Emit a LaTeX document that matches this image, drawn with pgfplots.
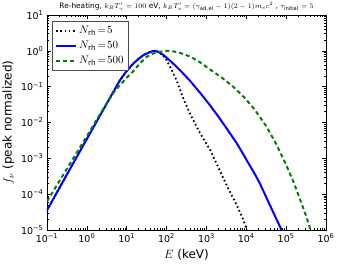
\documentclass[border=0pt]{standalone}
\usepackage{fontspec}
\setmainfont{DejaVu Sans}
\usepackage{pgfplots}
\pgfplotsset{compat=1.18}
\definecolor{mplgreen}{RGB}{0,128,0}
\begin{document}
\begin{tikzpicture}
\useasboundingbox (-47pt,-37pt) rectangle (293pt,230pt);
\begin{axis}[
  scale only axis, width=279pt, height=215pt,
  xmode=log, ymode=log,
  xmin=1e-1, xmax=1e6, ymin=1e-5, ymax=10,
  xtick={1e-1,1,1e1,1e2,1e3,1e4,1e5,1e6},
  xticklabels={10\textsuperscript{−1},10\textsuperscript{0},10\textsuperscript{1},10\textsuperscript{2},10\textsuperscript{3},10\textsuperscript{4},10\textsuperscript{5},10\textsuperscript{6}},
  ytick={1e-5,1e-4,1e-3,1e-2,1e-1,1,1e1},
  yticklabels={10\textsuperscript{−5},10\textsuperscript{−4},10\textsuperscript{−3},10\textsuperscript{−2},10\textsuperscript{−1},10\textsuperscript{0},10\textsuperscript{1}},
  tick label style={font=\fontsize{9.5}{11}\selectfont},
  major tick length=4pt, minor tick length=2pt,
  tick style={black, line width=0.5pt},
  xlabel={$E$ (keV)}, ylabel={$f_\nu$ (peak normalized)},
  label style={font=\fontsize{12}{14}\selectfont},
  title={Re-heating, $k_BT'_\gamma=100$ eV, $k_BT'_e=(\gamma_{\rm ad,el}-1)(2-1)m_ec^2$ , $\tau_{\rm initial}=5$},
  title style={font=\fontsize{7.4}{9}\selectfont, yshift=-6pt},
  legend style={at={(0.018,0.972)}, anchor=north west, draw=black!70, font=\fontsize{10.5}{12}\selectfont, row sep=2pt, inner xsep=3pt, inner ysep=3pt},
  legend cell align=left,
  legend image code/.code={\draw[#1] (0pt,0pt) -- (20pt,0pt);},
]
\addplot[black, line width=1.8pt, dash pattern=on 1.6pt off 2.6pt] coordinates {
(0.1,3.55e-5)(0.316,3.55e-4)(1,3.47e-3)(3.16,0.0339)(6.76,0.151)(10,0.275)(14.8,0.447)(20.0,0.603)(26.3,0.759)(35.5,0.891)(44.7,0.977)(50.1,1)(60.3,0.933)(79.4,0.759)(100,0.550)(126,0.339)(178,0.151)(263,0.0468)(398,0.0166)(692,5.01e-3)(1260,1.66e-3)(2190,4.47e-4)(3550,1.41e-4)(5750,5.01e-5)(7940,2.24e-5)(10000,1.12e-5)(10700,7.94e-6)
};
\addlegendentry{$N_{\rm rh}\!=\!5$}
\addplot[blue, line width=2pt] coordinates {
(0.1,3.55e-5)(0.316,3.55e-4)(1,3.47e-3)(3.16,0.0339)(6.76,0.151)(10,0.275)(14.8,0.447)(20.0,0.603)(26.3,0.759)(35.5,0.891)(44.7,0.977)(51.3,1)(63.1,0.933)(79.4,0.794)(100,0.646)(148,0.437)(200,0.316)(275,0.219)(389,0.145)(692,0.0676)(1230,0.0302)(2000,0.0145)(3240,6.76e-3)(5620,2.75e-3)(7590,1.58e-3)(10200,8.91e-4)(16600,3.55e-4)(21900,2.00e-4)(38900,5.01e-5)(56200,2.09e-5)(89100,7.08e-6)
};
\addlegendentry{$N_{\rm rh}\!=\!50$}
\addplot[mplgreen, line width=2pt, dash pattern=on 4pt off 3pt] coordinates {
(0.1,6.31e-5)(0.316,5.13e-4)(1,4.17e-3)(2.57,0.0240)(5.01,0.0759)(10,0.178)(14.8,0.275)(22.4,0.468)(31.6,0.676)(44.7,0.832)(63.1,0.933)(100,1)(158,0.955)(251,0.832)(389,0.692)(692,0.479)(1230,0.302)(2510,0.174)(4680,0.1)(8910,0.0501)(15800,0.0240)(31600,7.94e-3)(56200,2.51e-3)(102000,6.31e-4)(158000,2.00e-4)(224000,7.08e-5)(316000,2.51e-5)(398000,1.10e-5)(457000,7.08e-6)
};
\addlegendentry{$N_{\rm rh}\!=\!500$}
\end{axis}
\end{tikzpicture}
\end{document}
